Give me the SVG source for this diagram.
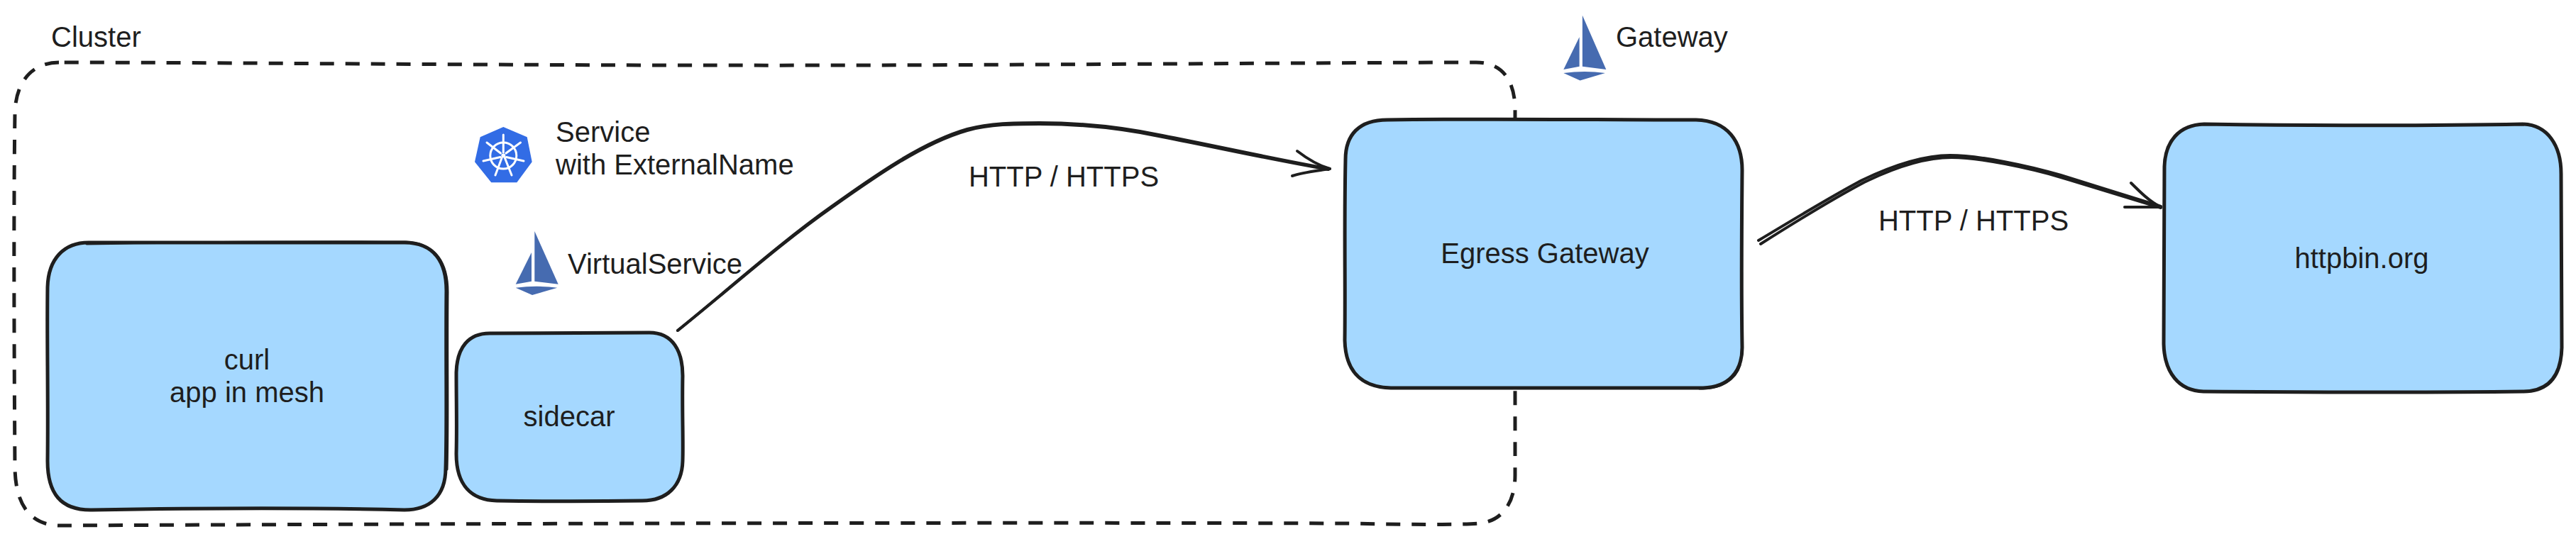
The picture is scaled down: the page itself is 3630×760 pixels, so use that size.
<svg xmlns="http://www.w3.org/2000/svg" width="3630" height="760" viewBox="0 0 3630 760">
<style>
text{font-family:"Liberation Sans",Arial,Helvetica,sans-serif;font-size:40px;fill:#1e1e1e}
.m{text-anchor:middle}
.box{fill:#a5d8ff;stroke:#1e1e1e;stroke-width:5;stroke-linecap:round;stroke-linejoin:round}
.ink{fill:none;stroke:#1e1e1e;stroke-width:3;stroke-linecap:round;stroke-linejoin:round}
.arrow{fill:none;stroke:#1e1e1e;stroke-width:4;stroke-linecap:round;stroke-linejoin:round}
.dash{fill:none;stroke:#1e1e1e;stroke-width:5;stroke-dasharray:20 16;stroke-linecap:butt}
.sail{fill:#466bb0}
.w{fill:none;stroke:#fff;stroke-width:3;stroke-linecap:round}
</style>
<defs>
<g id="istio">
<path class="sail" d="M26.600 0L60 74.700L26.600 70.700Z"/>
<path class="sail" d="M22.300 30V70.700L0 74.700Z"/>
<path class="sail" d="M0 79.700Q30 76 58.600 79.700L23.300 90Z"/>
</g>
</defs>
<rect width="3630" height="760" fill="#fff"/>
<g id="cluster">
<path class="dash" d="M83 88C50 88 22 110 21 160C19 300 20 500 21 660C22 715 45 741 85 741C500 739 1300 736 1900 738C2000 740 2060 740 2085 738C2120 734 2135 705 2135 670C2135 500 2135 350 2135 150C2133 110 2115 88 2080 88C1900 88 1300 93 1000 92C700 92 300 88 83 88Z"/>
<text x="72" y="66">Cluster</text>
</g>
<g id="curl">
<path class="box" d="M125 342C300 343 450 341 570 342C612 342 629 370 629 410C628 500 630 600 628 660C628 700 605 719 570 719C450 716 300 716 130 719C85 720 67 695 67 650C68 550 66 480 67 405C68 365 90 342 125 342Z"/>
<path class="ink" d="M122 344C300 341 450 340 572 341C615 343 631 372 631 412C630 500 632 600 630 662"/>
<text class="m" x="348" y="521">curl</text>
<text class="m" x="348" y="567">app in mesh</text>
</g>
<g id="sidecar">
<path class="box" d="M690 470C780 469 860 469 915 469C948 469 962 495 962 530C961 580 963 620 962 650C961 685 940 706 905 706C840 707 770 707 700 706C665 705 643 685 643 640C644 600 643 570 643 525C644 490 660 470 690 470Z"/>
<text class="m" x="802" y="601">sidecar</text>
</g>
<g id="service">
<path d="M709.300 179L742.700 193.300L749.700 228.300L728.300 257.300H692.300L669 228.300L676.700 193.300Z" fill="#326ce5"/>
<circle class="w" cx="709.300" cy="219.500" r="18.500"/>
<circle cx="709.300" cy="219.500" r="3" fill="#fff"/>
<path class="w" d="M709.300 190V215M733.500 201L713 216M738 227L713.500 221.500M721 247L711.500 223M698 247L707 223M681 227L705 221.500M686 201L705.500 216"/>
<text x="783" y="200">Service</text>
<text x="783" y="246">with ExternalName</text>
</g>
<g id="virtualservice">
<use href="#istio" x="726.700" y="326"/>
<text x="800" y="386">VirtualService</text>
</g>
<g id="egress">
<path class="box" d="M1955 169C2100 167 2250 169 2390 169C2435 170 2455 200 2455 240C2454 350 2454 430 2455 490C2455 525 2435 546 2400 547C2250 546 2100 548 1960 547C1915 546 1896 520 1895 480C1896 400 1894 320 1896 225C1896 190 1915 169 1955 169Z"/>
<path class="ink" d="M2452 515C2446 535 2425 549 2395 548"/>
<text class="m" x="2177" y="371">Egress Gateway</text>
</g>
<g id="gateway">
<use href="#istio" transform="translate(2203.300 21.700) scale(1 1.020)"/>
<text x="2277" y="66">Gateway</text>
</g>
<g id="httpbin">
<path class="box" d="M3106 175C3250 177 3400 178 3555 175C3590 176 3609 205 3609 245C3610 350 3609 430 3610 490C3609 530 3592 552 3555 552C3400 554 3250 553 3105 552C3070 551 3050 525 3049 485C3050 400 3049 320 3050 235C3051 200 3070 176 3106 175Z"/>
<text class="m" x="3328" y="378">httpbin.org</text>
</g>
<g id="connectors">
<path class="arrow" d="M955 466C1030 405 1100 342 1172 291C1232 248 1300 200 1363 182C1395 173 1430 173 1465 173C1530 173 1590 181 1638 191C1720 207 1800 225 1874 238"/>
<path class="arrow" d="M955 466C1030 406 1100 343 1172 292.500C1232 250 1300 202 1363 184C1395 175 1430 175 1465 175C1530 175 1590 183 1638 193C1720 209 1800 227 1872 239"/>
<path class="arrow" d="M1828 213C1845 226 1860 234 1874 238C1855 241 1835 243 1821 248"/>
<path class="arrow" d="M2478 339C2530 308 2575 280 2624 254C2670 232 2710 219 2748 219C2790 219 2860 234 2904 247C2950 261 3000 277 3045 291"/>
<path class="arrow" stroke-width="3" d="M2481 344C2533 311 2578 283 2627 257C2672 235 2712 222 2750 222C2790 222 2860 237 2904 250C2950 264 3000 279 3045 293"/>
<path class="arrow" d="M3003 258C3015 270 3030 285 3045 292C3025 292 3010 292 2994 292"/>
</g>
<text class="m" x="1499" y="263">HTTP / HTTPS</text>
<text class="m" x="2781" y="325">HTTP / HTTPS</text>
</svg>
